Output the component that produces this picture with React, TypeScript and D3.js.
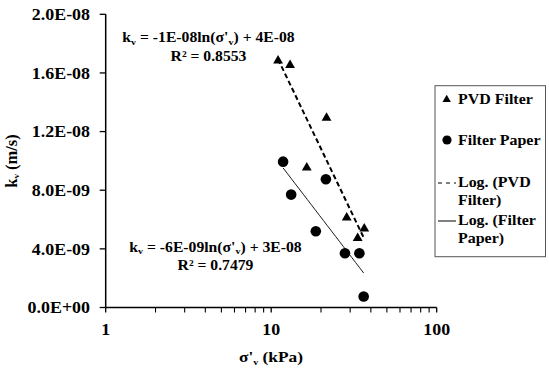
import React from "react";
import * as d3 from "d3";

// ---- data ----
const pvdStress = [11.0, 13.0, 21.6, 16.4, 28.6, 36.5, 33.3];
const pvdK = [1.69e-8, 1.66e-8, 1.30e-8, 9.6e-9, 6.2e-9, 5.45e-9, 4.8e-9];
const paperStress = [11.8, 13.2, 21.4, 18.6, 27.9, 34.1, 36.2];
const paperK = [9.95e-9, 7.7e-9, 8.75e-9, 5.2e-9, 3.7e-9, 3.7e-9, 7.5e-10];
const yTicks = [0, 4e-9, 8e-9, 1.2e-8, 1.6e-8, 2e-8];
const yTickLabels = ["0.0E+00", "4.0E-09", "8.0E-09", "1.2E-08", "1.6E-08", "2.0E-08"];
const xTicks = [1, 10, 100];
const legendLabels = ["PVD Filter", "Filter Paper", "Log. (PVD", "Filter)", "Log. (Filter", "Paper)"];

const W = 549, H = 369;
const FONT = "'Liberation Serif', 'Times New Roman', serif";
const SX = 1.12;

const x = d3.scaleLog().domain([1, 100]).range([105.7, 436.7]);
const y = d3.scaleLinear().domain([0, 2e-8]).range([307.5, 14.3]);

function fitLog(xs: number[], ys: number[]) {
  const lx = xs.map(Math.log);
  const mx = d3.mean(lx)!, my = d3.mean(ys)!;
  let sxy = 0, sxx = 0;
  lx.forEach((v, i) => { sxy += (v - mx) * (ys[i] - my); sxx += (v - mx) ** 2; });
  const a = sxy / sxx;
  const b = my - a * mx;
  return { a, b };
}

function T({ x: tx, y: ty, anchor = "start", size = 15, children, sx = SX }: any) {
  return (
    <text transform={`translate(${tx},${ty}) scale(${sx},1)`} textAnchor={anchor}
      fontFamily={FONT} fontWeight="bold" fontSize={size} fill="#000">
      {children}
    </text>
  );
}

export default function App() {
  const tri = d3.symbol().type(d3.symbolTriangle).size(42)()!;
  const triL = d3.symbol().type(d3.symbolTriangle).size(30)()!;
  const fits = [
    { xs: pvdStress, ys: pvdK, dash: "5,3", sw: 2 },
    { xs: paperStress, ys: paperK, dash: undefined, sw: 0.9 },
  ].map((s) => {
    const f = fitLog(s.xs, s.ys);
    const [x0, x1] = d3.extent(s.xs) as [number, number];
    const pts = d3.range(0, 21).map((i) => x0 * Math.pow(x1 / x0, i / 20));
    const line = d3.line<number>().x((v) => x(v)).y((v) => y(f.a * Math.log(v) + f.b));
    return { ...s, d: line(pts)! };
  });
  const minor: number[] = [];
  [1, 10].forEach((dec) => { for (let k = 2; k <= 9; k++) minor.push(dec * k); });

  const sub = (t: string) => (
    <tspan baselineShift="-25%" fontSize="9">{t}</tspan>
  );

  return (
    <svg width={W} height={H} style={{ position: "absolute", left: 0, top: 0, background: "#fff" }}>
      <rect width={W} height={H} fill="#fff" />
      {/* trendlines */}
      {fits.map((f, i) => (
        <path key={i} d={f.d} fill="none" stroke="#000" strokeWidth={f.sw} strokeDasharray={f.dash} />
      ))}
      {/* axes */}
      <line x1={x(1)} x2={x(1)} y1={y(2e-8)} y2={y(0)} stroke="#000" strokeWidth={1.5} />
      <line x1={x(1)} x2={x(100)} y1={y(0)} y2={y(0)} stroke="#000" strokeWidth={1.5} />
      {yTicks.map((t, i) => (
        <g key={i}>
          <line x1={x(1) - 6} x2={x(1)} y1={y(t)} y2={y(t)} stroke="#000" strokeWidth={1.3} />
          <T x={90} y={y(t) + 5.8} anchor="end" size={16}>{yTickLabels[i]}</T>
        </g>
      ))}
      {xTicks.map((t, i) => (
        <g key={i}>
          <line x1={x(t)} x2={x(t)} y1={y(0)} y2={y(0) + 5} stroke="#000" strokeWidth={1.3} />
          <T x={x(t)} y={335} anchor="middle" size={16}>{String(t)}</T>
        </g>
      ))}
      {minor.map((t, i) => (
        <line key={i} x1={x(t)} x2={x(t)} y1={y(0)} y2={y(0) + 5} stroke="#000" strokeWidth={1.1} />
      ))}
      {/* axis titles */}
      <T x={271} y={362} anchor="middle" size={15.5}>σ'{sub("v")} (kPa)</T>
      <text transform="translate(17,161) rotate(-90)" textAnchor="middle" fontFamily={FONT}
        fontWeight="bold" fontSize={16.5}>k{sub("v")} (m/s)</text>
      {/* points */}
      {pvdStress.map((s, i) => (
        <path key={i} d={tri} transform={`translate(${x(s)},${y(pvdK[i]) + 1})`} fill="#000" />
      ))}
      {paperStress.map((s, i) => (
        <circle key={i} cx={x(s)} cy={y(paperK[i])} r={5.3} fill="#000" />
      ))}
      {/* equations */}
      <T x={208.5} y={42} anchor="middle" size={14}>k{sub("v")} = -1E-08ln(σ'{sub("v")}) + 4E-08</T>
      <T x={208.5} y={61} anchor="middle" size={14}>R² = 0.8553</T>
      <T x={215.5} y={251.5} anchor="middle" size={14}>k{sub("v")} = -6E-09ln(σ'{sub("v")}) + 3E-08</T>
      <T x={215.5} y={270} anchor="middle" size={14}>R² = 0.7479</T>
      {/* legend */}
      <rect x={435} y={85.7} width={110.5} height={171} fill="none" stroke="#555" strokeWidth={1} />
      <path d={triL} transform="translate(446.7,99.5)" fill="#000" />
      <T x={458} y={104} size={15.5} sx={1.03}>{legendLabels[0]}</T>
      <circle cx={447} cy={140} r={4.6} fill="#000" />
      <T x={458} y={145} size={15.5} sx={1.03}>{legendLabels[1]}</T>
      <line x1={438} x2={456} y1={183} y2={183} stroke="#000" strokeWidth={1} strokeDasharray="4,4" />
      <T x={458} y={187} size={15.5} sx={1.03}>{legendLabels[2]}</T>
      <T x={458} y={205} size={15.5} sx={1.03}>{legendLabels[3]}</T>
      <line x1={438} x2={456} y1={221} y2={221} stroke="#000" strokeWidth={1} />
      <T x={458} y={225} size={15.5} sx={1.03}>{legendLabels[4]}</T>
      <T x={458} y={243} size={15.5} sx={1.03}>{legendLabels[5]}</T>
    </svg>
  );
}
